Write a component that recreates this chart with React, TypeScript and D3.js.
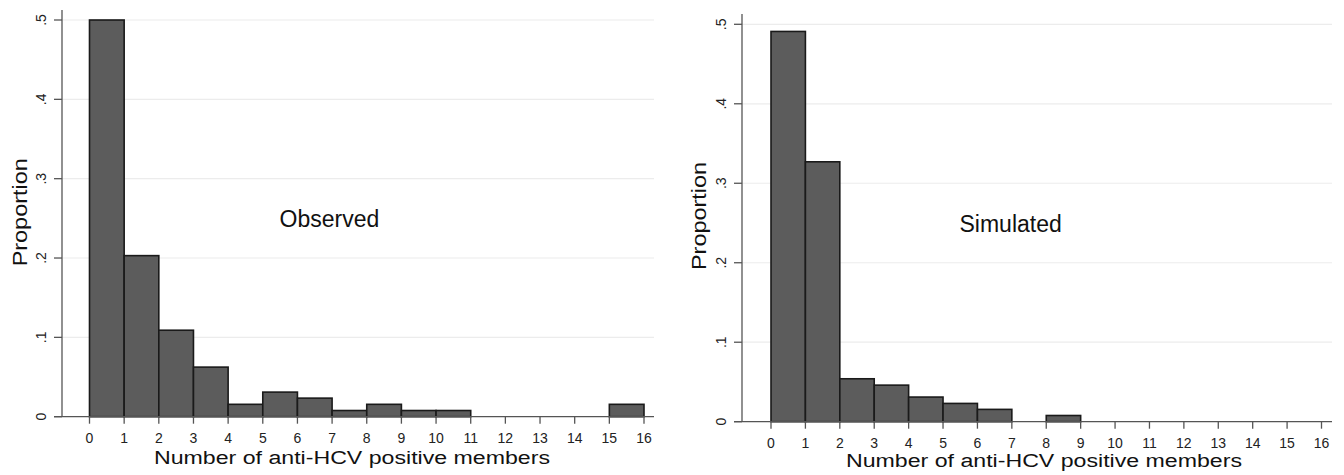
import React from "react";
import * as d3 from "d3";

const binStarts = [0, 1, 2, 3, 4, 5, 6, 7, 8, 9, 10, 11, 12, 13, 14, 15];
const observed = [0.5, 0.203, 0.109, 0.0625, 0.0156, 0.031, 0.0234, 0.0078, 0.0156, 0.0078, 0.0078, 0, 0, 0, 0, 0.0156];
const simulated = [0.491, 0.327, 0.054, 0.046, 0.031, 0.023, 0.0155, 0, 0.0078, 0, 0, 0, 0, 0, 0, 0];
const xTicks = d3.range(0, 17);
const yTicks = [0, 0.1, 0.2, 0.3, 0.4, 0.5];
const yTickLabels = ["0", ".1", ".2", ".3", ".4", ".5"];
const panelLabels = ["Observed", "Simulated"];
const xTitle = "Number of anti-HCV positive members";
const yTitle = "Proportion";

const FONT = "Liberation Sans, Arial, sans-serif";

type Layout = {
  axisX: number; x0: number; x16: number; y0: number; y5: number;
  right: number; top: number; yLabelX: number; yTitleX: number; yTitleY: number;
  tickLabelY: number; xTitleX: number; xTitleY: number; noteX: number; noteY: number;
};

const layouts: Layout[] = [
  { axisX: 62, x0: 89.5, x16: 644, y0: 416.7, y5: 20, right: 654, top: 10, yLabelX: 46, yTitleX: 27, yTitleY: 212.3,
    tickLabelY: 443, xTitleX: 352, xTitleY: 464, noteX: 279.5, noteY: 226.5 },
  { axisX: 742, x0: 771, x16: 1321.5, y0: 421.7, y5: 24.3, right: 1332, top: 14, yLabelX: 725.5, yTitleX: 706, yTitleY: 216,
    tickLabelY: 447.5, xTitleX: 1044, xTitleY: 466.5, noteX: 959.5, noteY: 231.5 },
];

function Panel({ L, values, note }: { L: Layout; values: number[]; note: string }) {
  const x = d3.scaleLinear().domain([0, 16]).range([L.x0, L.x16]);
  const y = d3.scaleLinear().domain([0, 0.5]).range([L.y0, L.y5]);
  return (
    <g fontFamily={FONT}>
      {yTicks.slice(1).map((t) => (
        <line key={t} x1={L.axisX} x2={L.right} y1={y(t)} y2={y(t)} stroke="#ececec" strokeWidth={1.2} />
      ))}
      {binStarts.map((b, i) =>
        values[i] > 0 ? (
          <rect key={b} x={x(b)} y={y(values[i])} width={x(b + 1) - x(b)} height={y(0) - y(values[i])}
            fill="#5c5c5c" stroke="#1a1a1a" strokeWidth={1.6} />
        ) : null
      )}
      <line x1={L.axisX} x2={L.axisX} y1={L.top} y2={L.y0} stroke="#555" strokeWidth={1.3} />
      <line x1={L.axisX - 8} x2={L.right} y1={L.y0} y2={L.y0} stroke="#555" strokeWidth={1.3} />
      {yTicks.map((t, i) => (
        <g key={t}>
          <line x1={L.axisX - 8} x2={L.axisX} y1={y(t)} y2={y(t)} stroke="#555" strokeWidth={1.3} />
          <text transform={`translate(${L.yLabelX},${y(t)}) rotate(-90)`} textAnchor="middle" fontSize={14} fill="#222">
            {yTickLabels[i]}
          </text>
        </g>
      ))}
      {xTicks.map((t) => (
        <g key={t}>
          <line x1={x(t)} x2={x(t)} y1={L.y0} y2={L.y0 + 7} stroke="#555" strokeWidth={1.3} />
          <text x={x(t)} y={L.tickLabelY} textAnchor="middle" fontSize={14} fill="#222">{t}</text>
        </g>
      ))}
      <text x={L.xTitleX} y={L.xTitleY} textAnchor="middle" fontSize={18} fill="#111"
        textLength={396} lengthAdjust="spacingAndGlyphs">{xTitle}</text>
      <text transform={`translate(${L.yTitleX},${L.yTitleY}) rotate(-90)`} textAnchor="middle" fontSize={20.5} fill="#111"
        textLength={108} lengthAdjust="spacingAndGlyphs">{yTitle}</text>
      <text x={L.noteX} y={L.noteY} fontSize={23} fill="#111">{note}</text>
    </g>
  );
}

export default function App() {
  return (
    <svg width={1344} height={475} style={{ position: "absolute", left: 0, top: 0, background: "#fff" }}>
      <rect width={1344} height={475} fill="#fff" />
      <Panel L={layouts[0]} values={observed} note={panelLabels[0]} />
      <Panel L={layouts[1]} values={simulated} note={panelLabels[1]} />
    </svg>
  );
}
